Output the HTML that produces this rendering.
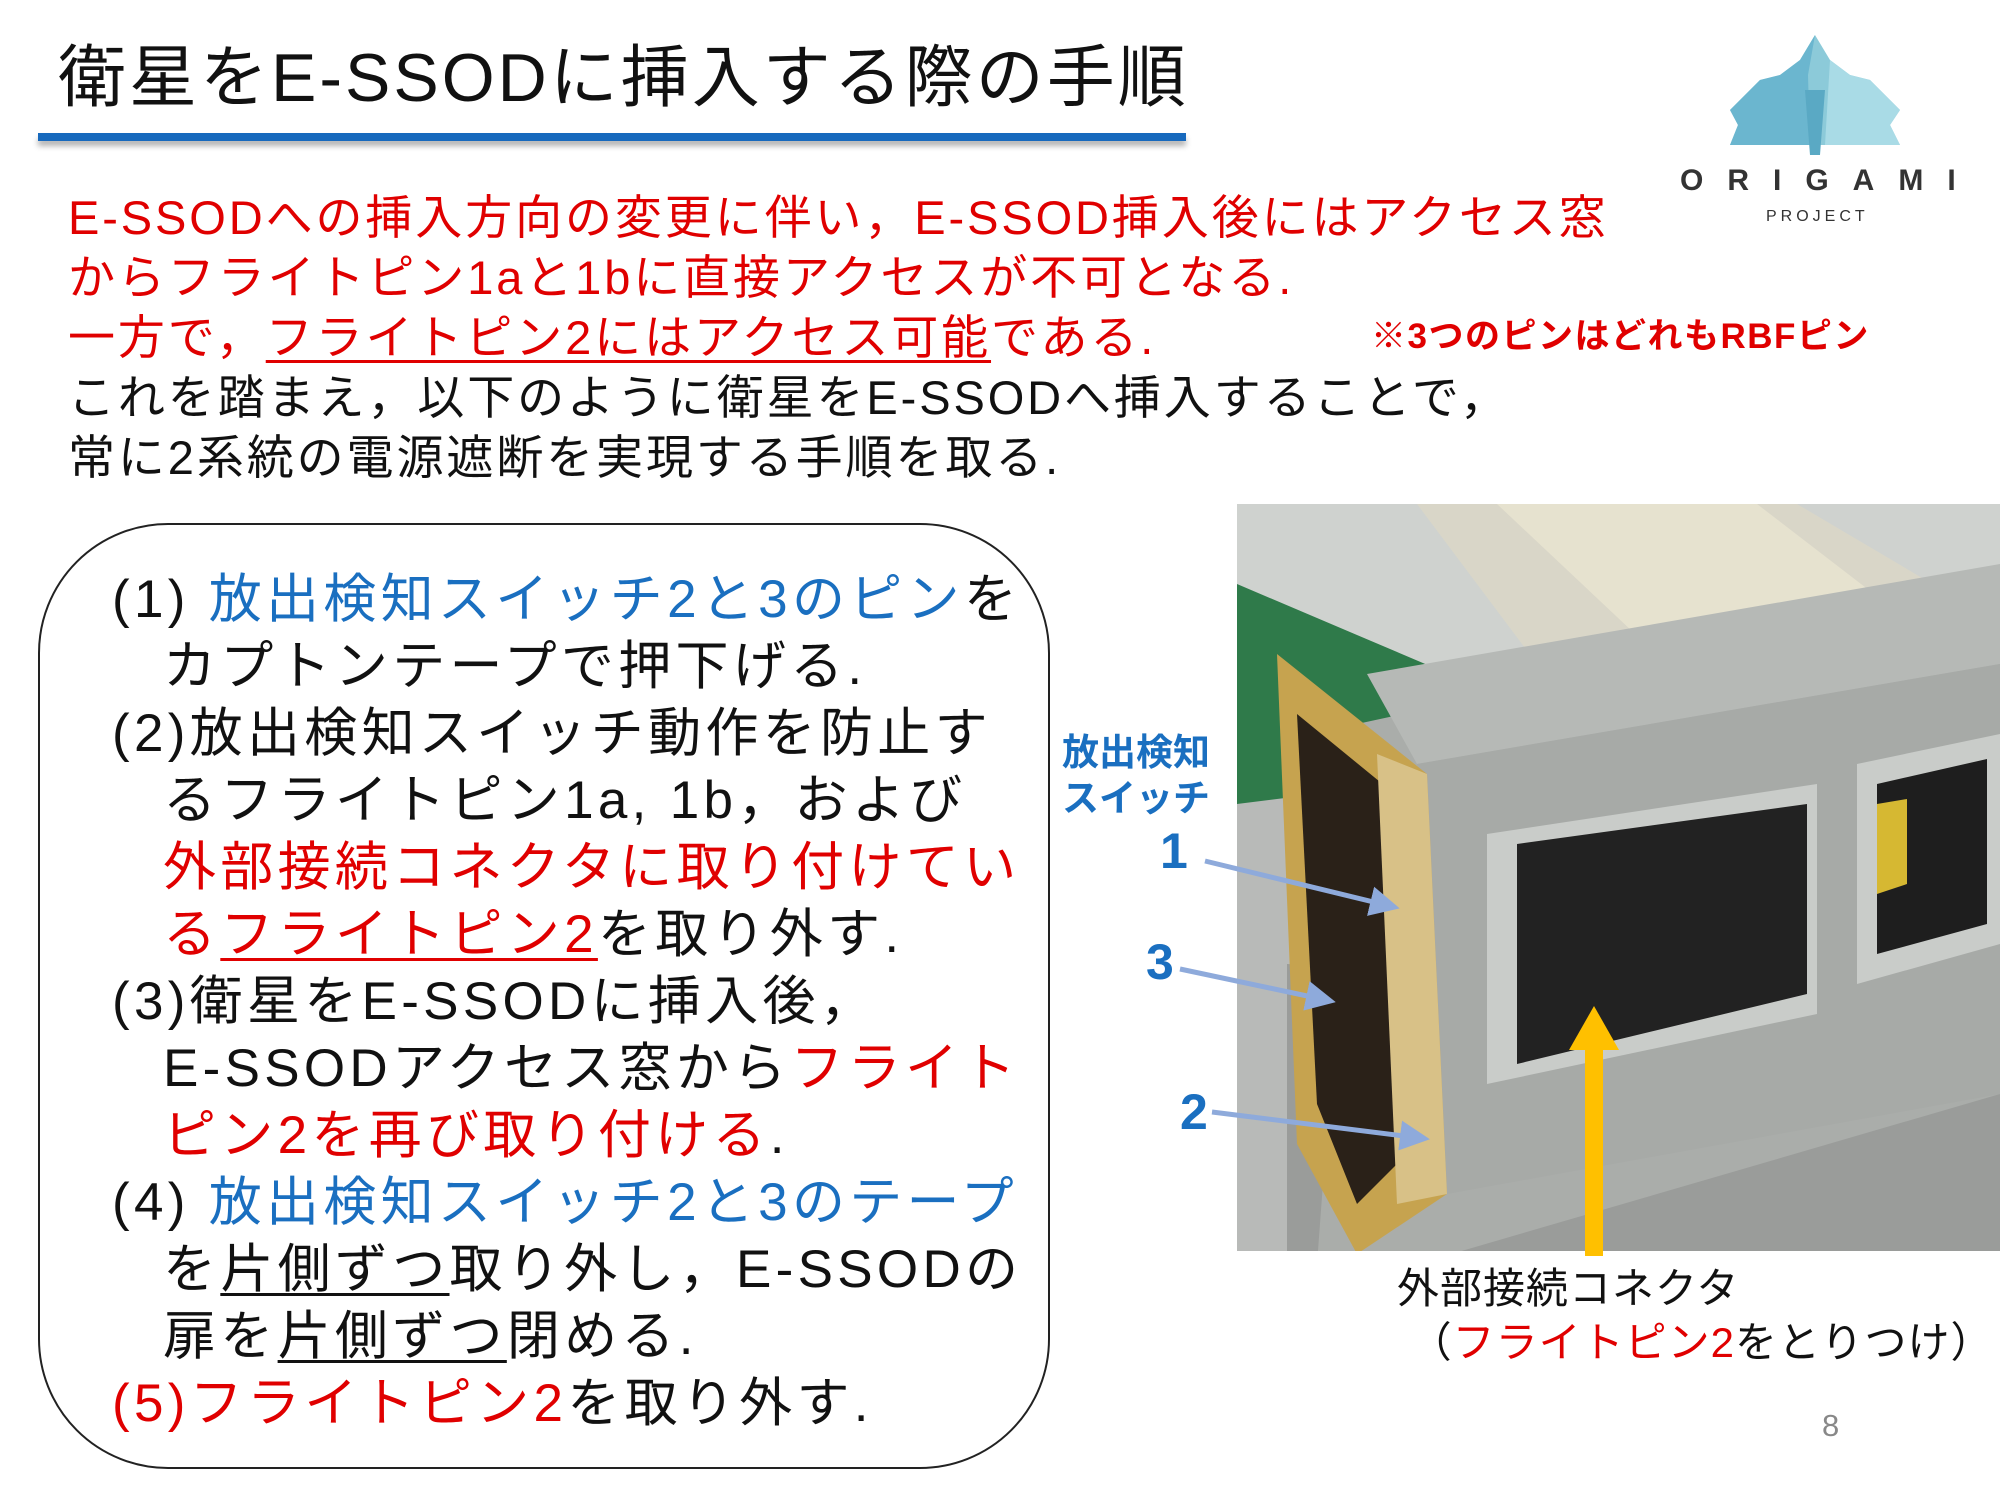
<!DOCTYPE html>
<html><head><meta charset="utf-8"><style>
*{margin:0;padding:0;box-sizing:border-box}
body{width:2000px;height:1500px;background:#fff;position:relative;overflow:hidden;font-family:"Liberation Sans","Noto Sans CJK JP",sans-serif;}
.a{position:absolute;white-space:nowrap;}
.r{color:#e00000}.b{color:#1a6fc0}.k{color:#111}
u{text-decoration-thickness:3px;text-underline-offset:6px}
i{display:inline-block;width:51px;font-style:normal}
</style></head><body>
<div class="a k" style="left:58px;top:38px;font-size:68px;line-height:80px;letter-spacing:3px">衛星をE-SSODに挿入する際の手順</div>
<div class="a" style="left:38px;top:133px;width:1148px;height:8px;background:#1769bd;box-shadow:0 5px 6px rgba(0,0,0,0.3)"></div>

<svg class="a" style="left:1700px;top:30px" width="230" height="130" viewBox="0 0 230 130">
<polygon points="30,115 200,115 190,95 200,80 185,65 170,50 150,45 130,30 115,5 100,30 80,45 60,50 45,65 30,80 38,95" fill="#8ccad9"/>
<polygon points="115,5 100,30 80,45 60,50 45,65 30,80 38,95 30,115 110,115 108,45" fill="#6bb6cf"/>
<polygon points="105,60 125,60 120,125 110,125" fill="#5aa9c4"/>
<polygon points="130,30 150,45 170,50 185,65 200,80 190,95 200,115 125,115" fill="#a9dbe6"/>
</svg>
<div class="a" style="left:1680px;top:164px;font-size:30px;letter-spacing:24px;color:#333;font-weight:bold">ORIGAMI</div>
<div class="a" style="left:1766px;top:208px;font-size:16px;letter-spacing:4px;color:#333">PROJECT</div>

<div class="a r" style="left:68px;top:188px;font-size:47px;line-height:60px;letter-spacing:2.9px">E-SSODへの挿入方向の変更に伴い，E-SSOD挿入後にはアクセス窓<br>からフライトピン1aと1bに直接アクセスが不可となる.<br>一方で，<u>フライトピン2にはアクセス可能</u>である.</div>
<div class="a r" style="left:1371px;top:308px;font-size:35px;font-weight:bold;letter-spacing:1.5px">※3つのピンはどれもRBFピン</div>
<div class="a k" style="left:68px;top:368px;font-size:47px;line-height:60px;letter-spacing:2.9px">これを踏まえ，以下のように衛星をE-SSODへ挿入することで，<br>常に2系統の電源遮断を実現する手順を取る.</div>

<div class="a" style="left:38px;top:523px;width:1012px;height:946px;border:2px solid #222;border-radius:130px"></div>
<div class="a k" style="left:112px;top:566px;font-size:53px;line-height:67px;letter-spacing:4.3px">(1) <span class="b">放出検知スイッチ2と3のピン</span>を<br><i></i>カプトンテープで押下げる.<br>(2)放出検知スイッチ動作を防止す<br><i></i>るフライトピン1a, 1b，および<br><i></i><span class="r">外部接続コネクタに取り付けてい</span><br><i></i><span class="r">る<u>フライトピン2</u></span>を取り外す.<br>(3)衛星をE-SSODに挿入後，<br><i></i>E-SSODアクセス窓から<span class="r">フライト</span><br><i></i><span class="r">ピン2を再び取り付ける</span>.<br>(4) <span class="b">放出検知スイッチ2と3のテープ</span><br><i></i>を<u>片側ずつ</u>取り外し，E-SSODの<br><i></i>扉を<u>片側ずつ</u>閉める.<br><span class="r">(5)フライトピン2</span>を取り外す.</div>

<svg class="a" style="left:1237px;top:504px" width="763" height="747" viewBox="0 0 763 747">
<rect width="763" height="747" fill="#b8bab8"/>
<rect width="763" height="200" fill="#cfd2cf"/>
<polygon points="0,80 400,250 0,300" fill="#2f7a4a"/>
<polygon points="180,0 560,0 763,120 763,180 470,300 330,200" fill="#d9d6c8"/>
<polygon points="260,0 520,0 650,100 430,160" fill="#e6e2cf"/>
<polygon points="50,460 763,500 763,747 50,747" fill="#9a9c9a"/>
<polygon points="80,760 120,220 763,80 763,590 180,760" fill="#aaadaa"/>
<polygon points="130,170 763,60 763,160 180,260" fill="#b6b9b6"/>
<polygon points="180,260 763,160 763,590 210,690" fill="#a7aaa7"/>
<polygon points="40,150 190,270 210,690 120,750 60,640" fill="#c6a34f"/>
<polygon points="60,210 170,300 180,640 120,700 80,600" fill="#2a2118"/>
<polygon points="140,250 190,270 210,690 160,700" fill="#d8c187"/>
<polygon points="250,330 580,280 580,510 250,580" fill="#c9ccc9"/>
<polygon points="280,340 570,300 570,490 280,560" fill="#222"/>
<polygon points="620,260 763,230 763,440 620,480" fill="#c9ccc9"/>
<polygon points="640,280 750,255 750,420 640,450" fill="#1e1e1e"/>
<polygon points="640,300 670,295 670,380 640,390" fill="#d6b832"/>
</svg>

<div class="a b" style="left:1062px;top:730px;font-size:37px;line-height:46px;font-weight:bold">放出検知<br>スイッチ</div>
<div class="a b" style="left:1160px;top:822px;font-size:50px;font-weight:bold">1</div>
<div class="a b" style="left:1146px;top:933px;font-size:50px;font-weight:bold">3</div>
<div class="a b" style="left:1180px;top:1083px;font-size:50px;font-weight:bold">2</div>
<svg class="a" style="left:0;top:0" width="2000" height="1500">
<defs><marker id="m" markerWidth="6" markerHeight="6" refX="4" refY="3" orient="auto"><path d="M0,0 L6,3 L0,6z" fill="#8eaadb"/></marker></defs>
<g stroke="#8eaadb" stroke-width="5" fill="none" marker-end="url(#m)">
<line x1="1205" y1="861" x2="1390" y2="906"/>
<line x1="1180" y1="969" x2="1326" y2="1000"/>
<line x1="1212" y1="1112" x2="1420" y2="1138"/>
</g>
<rect x="1585" y="1048" width="18" height="208" fill="#ffc000"/>
<polygon points="1569,1050 1619,1050 1594,1006" fill="#ffc000"/>
</svg>

<div class="a k" style="left:1397px;top:1262px;font-size:42px;line-height:54px;letter-spacing:1px">外部接続コネクタ<br>&nbsp;（<span class="r">フライトピン2</span>をとりつけ）</div>
<div class="a" style="left:1822px;top:1408px;font-size:31px;color:#888">8</div>
</body></html>
